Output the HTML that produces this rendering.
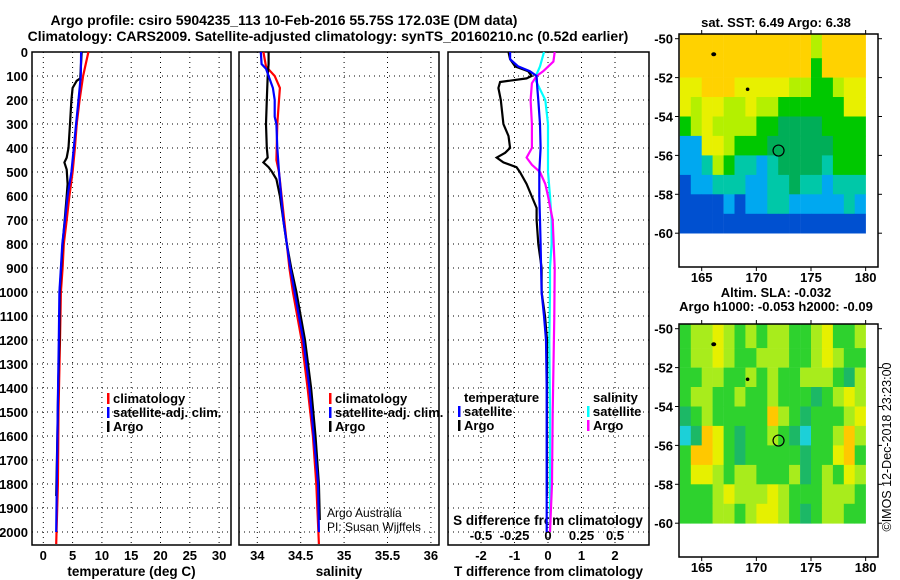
<!DOCTYPE html>
<html><head><meta charset="utf-8"><style>
html,body{margin:0;padding:0;background:#fff;}
svg{display:block;font-family:"Liberation Sans",Arial,sans-serif;font-weight:bold;}
</style></head><body>
<svg id="fig" width="900" height="580" viewBox="0 0 900 580" xmlns="http://www.w3.org/2000/svg">
<text x="284" y="25" text-anchor="middle" font-size="14">Argo profile: csiro 5904235_113 10-Feb-2016 55.75S 172.03E (DM data)</text>
<text x="328" y="41" text-anchor="middle" font-size="14">Climatology: CARS2009. Satellite-adjusted climatology: synTS_20160210.nc (0.52d earlier)</text>
<g id="layer"></g>
</svg>
<script>
// ---------- data ----------
const depthTicks = [0,100,200,300,400,500,600,700,800,900,1000,1100,1200,1300,1400,1500,1600,1700,1800,1900,2000];
const tempTicks = [0,5,10,15,20,25,30];
const salTicks = [34,34.5,35,35.5,36];
const salTickLabels = ["34","34.5","35","35.5","36"];
const tdiffTicks = [-2,-1,0,1,2];
const sdiffTicks = [-0.5,-0.25,0,0.25,0.5];
const sdiffTickLabels = ["-0.5","-0.25","0","0.25","0.5"];

const climTDepth = [0,100,200,300,400,500,600,700,800,900,1000,1200,1500,1800,2050];
const climTVal   = [7.7,6.8,6.2,5.7,5.4,5.0,4.45,4.0,3.5,3.3,3.0,2.85,2.6,2.5,2.2];
const satTDepth  = [0,100,200,300,400,500,600,700,800,900,1000,1200,1500,1800,2000];
const satTVal    = [6.45,6.4,6.0,5.6,5.2,4.8,4.15,3.7,3.25,3.0,2.75,2.65,2.45,2.3,2.2];
const argoTDepth = [0,110,120,150,200,300,400,440,460,490,550,600,700,800,900,1000,1200,1400,1600,1850];
const argoTVal   = [6.55,6.3,5.7,5.0,4.8,4.55,4.3,4.0,3.6,4.0,4.15,4.0,3.65,3.3,3.05,2.8,2.75,2.55,2.4,2.2];

const climSDepth = [0,60,80,100,150,200,300,450,500,600,700,800,900,1000,1200,1400,1600,1800,2050];
const climSVal   = [34.07,34.1,34.15,34.2,34.26,34.25,34.23,34.22,34.25,34.28,34.31,34.34,34.37,34.41,34.51,34.58,34.64,34.68,34.71];
const satSDepth  = [0,50,70,100,150,200,270,300,400,500,700,900,1000,1200,1400,1600,1800,2000];
const satSVal    = [34.04,34.05,34.1,34.13,34.18,34.2,34.2,34.22,34.23,34.25,34.3,34.38,34.43,34.53,34.6,34.65,34.7,34.71];
const argoSDepth = [0,50,100,200,300,400,440,460,480,500,530,600,700,800,900,1000,1200,1400,1600,1800,1950];
const argoSVal   = [34.13,34.13,34.12,34.11,34.1,34.11,34.12,34.07,34.13,34.17,34.22,34.26,34.3,34.34,34.39,34.45,34.55,34.62,34.67,34.71,34.72];

const dTArgoDepth = [0,30,60,80,100,110,125,150,200,300,350,400,420,440,460,480,500,550,600,650,700,800,900,1000,1100,1200,1300,1850];
const dTArgoVal   = [-1.18,-1.13,-0.98,-0.59,-0.49,-0.64,-1.43,-1.48,-1.41,-1.33,-1.18,-1.13,-1.28,-1.53,-1.33,-0.94,-0.84,-0.64,-0.49,-0.34,-0.34,-0.29,-0.19,-0.19,-0.09,-0.03,-0.03,-0.03];
const dTSatDepth  = [0,30,60,80,100,150,200,300,400,500,600,700,800,1000,1100,1200,1400,1600,2000];
const dTSatVal    = [-1.13,-1.13,-0.89,-0.54,-0.34,-0.32,-0.29,-0.24,-0.22,-0.26,-0.26,-0.24,-0.22,-0.19,-0.12,-0.06,-0.04,-0.04,-0.04];
const dSSatDepth  = [0,60,100,120,200,300,400,500,600,700,800,900,1000,1200,1500,2000];
const dSSatVal    = [-0.03,-0.06,-0.09,-0.09,-0.02,0,0,0,0.015,0.027,0.027,0.015,0.015,0.01,0.015,0.015];
const dSArgoDepth = [0,40,80,100,130,200,300,400,440,470,500,550,600,700,900,1100,1500,1800,2000];
const dSArgoVal   = [0.05,0.04,-0.035,-0.085,-0.12,-0.13,-0.12,-0.12,-0.16,-0.12,-0.06,-0.02,0,0.035,0.05,0.047,0.035,0.03,0.015];

const lonTicks = [165,170,175,180];
const latTicks = [-50,-52,-54,-56,-58,-60];
const sstRows = ["OOOOOOOOOOOOLOOOO","OOOOOOOOOOOOGOOOO","YYOOOYYYYYLLGGLYY","YLYYLLYLLGGGGGGYY","GLYLLLLGGDDDDGGGG","CCYYLGGGDDDDDDGGG","CCTLGTTCTDDDDTGGG","BCCTTTCCTTDTTCTTT","BBBBCBCCTTCCCCCTC","BBBBBBBBBBBBBBBBB"];
const slaRows = ["GLLYLGLGLLGGLYGGL","GLLYLGGLLLGGLYLGG","GGLLGGLGLGGLLLGDL","GLLGGLGGLGGGDGLYL","DGLGGGGGOLGDGGGLY","CDOYGDGGLGDCGGLOL","GOOYGDGGGGGDGGYOG","GYYLGLLGGGLDGLGYL","GGGLYLLLYLGGGLLLG","GGGLLGLYYLGDGLLGG"];
const profileLon = [172.03];
const profileLat = [-55.75];

// ---------- helpers ----------
const NS="http://www.w3.org/2000/svg";
const layer=document.getElementById('layer');
function mk(tag,attrs,parent){const e=document.createElementNS(NS,tag);for(const k in attrs)e.setAttribute(k,attrs[k]);(parent||layer).appendChild(e);return e;}
const top0=52, bot=545;
function yD(d){return top0+d*0.24;}
const xT=v=>43.3+5.86*v;
const xS=v=>257.3+86.8*(v-34);
const xTd=v=>548+33.5*v;
const xSd=v=>548+134*v;

function panel(name,x0,x1,xticks,xf,labels,xlabel){
  const g=mk('g',{});
  
  
  xticks.forEach((t,i)=>{
    const gl=mk('line',{x1:xf(t),x2:xf(t),y1:top0,y2:bot,stroke:'#000','stroke-width':1,'stroke-dasharray':'1,4'},g);
    
    
    if(labels){const tx=mk('text',{x:xf(t),y:560,'text-anchor':'middle','font-size':13},g);tx.textContent=labels[i];
      
      }
  });
  depthTicks.forEach(d=>{
    const gl=mk('line',{x1:x0,x2:x1,y1:yD(d),y2:yD(d),stroke:'#000','stroke-width':1,'stroke-dasharray':'1,4'},g);
    
    
  });
  const r=mk('rect',{x:x0,y:top0,width:x1-x0,height:bot-top0,fill:'none',stroke:'#000','stroke-width':1.5},g);
  
  
  const xl=mk('text',{x:(x0+x1)/2,y:576,'text-anchor':'middle','font-size':13.5},g);
  xl.textContent=xlabel;
  
  
  return g;
}
function line(name,depths,vals,xf,color){
  const pts=depths.map((d,i)=>xf(vals[i]).toFixed(1)+','+yD(d).toFixed(1)).join(' ');
  const p=mk('polyline',{points:pts,fill:'none',stroke:color,'stroke-width':2.2});
  
  
}
function legend(name,x,y,items){
  const g=mk('g',{});
  
  
  items.forEach((it,i)=>{
    if(it[1]){mk('rect',{x:x,y:y+i*14-10,width:2.5,height:11,fill:it[1]},g);}
    const t=mk('text',{x:x+6,y:y+i*14,'font-size':13},g);t.textContent=it[0];
    
    
  });
}
function txt(name,x,y,s,size,anchor,weight){
  const t=mk('text',{x:x,y:y,'font-size':size,'text-anchor':anchor||'start'});
  if(weight)t.setAttribute('font-weight',weight);
  t.textContent=s;
  
  
  return t;
}

// ---------- panels ----------
panel('temperature-panel',32,231,tempTicks,xT,tempTicks.map(String),'temperature (deg C)');
panel('salinity-panel',239,439,salTicks,xS,salTickLabels,'salinity');
panel('difference-panel',448,649,tdiffTicks,xTd,tdiffTicks.map(String),'T difference from climatology');
depthTicks.forEach(d=>{txt('y-tick-label',28,yD(d)+5,String(d),13,'end');});
sdiffTicks.forEach((v,i)=>{txt('s-diff-tick-label',xSd(v),540,sdiffTickLabels[i],13,'middle');});
txt('s-diff-axis-title',548,525,'S difference from climatology',13.5,'middle');

line('temp-climatology-line',climTDepth,climTVal,xT,'#ff0000');
line('temp-argo-line',argoTDepth,argoTVal,xT,'#000000');
line('temp-satellite-line',satTDepth,satTVal,xT,'#0000ff');
line('sal-climatology-line',climSDepth,climSVal,xS,'#ff0000');
line('sal-argo-line',argoSDepth,argoSVal,xS,'#000000');
line('sal-satellite-line',satSDepth,satSVal,xS,'#0000ff');
line('sdiff-satellite-line',dSSatDepth,dSSatVal,xSd,'#00ffff');
line('sdiff-argo-line',dSArgoDepth,dSArgoVal,xSd,'#ff00ff');
line('tdiff-argo-line',dTArgoDepth,dTArgoVal,xTd,'#000000');
line('tdiff-satellite-line',dTSatDepth,dTSatVal,xTd,'#0000ff');

legend('temp-legend',107,403,[['climatology','#ff0000'],['satellite-adj. clim.','#0000ff'],['Argo','#000000']]);
legend('sal-legend',329,403,[['climatology','#ff0000'],['satellite-adj. clim.','#0000ff'],['Argo','#000000']]);
legend('tdiff-legend',458,402,[['temperature',null],['satellite','#0000ff'],['Argo','#000000']]);
legend('sdiff-legend',587,402,[['salinity',null],['satellite','#00ffff'],['Argo','#ff00ff']]);
txt('credit-line-1',327,517,'Argo Australia',12,'start','normal');
txt('credit-line-2',327,531,'PI: Susan Wijffels',12,'start','normal');

// ---------- maps ----------
const colsSST={O:'#ffd200',Y:'#e8f000',L:'#b4f000',G:'#00c800',D:'#00ae58',T:'#00c8a8',C:'#00a8f0',B:'#0050d0'};
const colsSLA={G:'#2ed22e',L:'#a8ec1c',Y:'#e6f000',D:'#1cb866',O:'#ffc800',C:'#1cd0d8'};
const mx0=679,mx1=878;
const lonX=lon=>701.7+(lon-165)*10.93;
function map(name,yOff,rows,cols,t1,t2){
  const g=mk('g',{});
  
  
  const latY=lat=>yOff+38.7+(-50-lat)*19.45;
  rows.forEach((row,r)=>{
    for(let c=0;c<row.length;c++){
      const x0=lonX(163+c), x1=lonX(164+c);
      const y0=r===0?yOff+34:latY(-50-r), y1=latY(-51-r);
      mk('rect',{x:x0.toFixed(1),y:y0.toFixed(1),width:(x1-x0+0.3).toFixed(1),height:(y1-y0+0.3).toFixed(1),fill:cols[row[c]]},g);
    }
  });
  mk('rect',{x:mx0,y:yOff+34,width:mx1-mx0,height:233,fill:'none',stroke:'#000','stroke-width':1.5},g);
  lonTicks.forEach(l=>{
    mk('line',{x1:lonX(l),x2:lonX(l),y1:yOff+34,y2:yOff+30,stroke:'#000'},g);
    mk('line',{x1:lonX(l),x2:lonX(l),y1:yOff+267,y2:yOff+271,stroke:'#000'},g);
    const t=mk('text',{x:lonX(l),y:yOff+282,'text-anchor':'middle','font-size':13},g);t.textContent=String(l);
    
    
  });
  latTicks.forEach(l=>{
    mk('line',{x1:mx0,x2:mx0-4,y1:latY(l),y2:latY(l),stroke:'#000'},g);
    mk('line',{x1:mx1,x2:mx1+4,y1:latY(l),y2:latY(l),stroke:'#000'},g);
    const t=mk('text',{x:673,y:latY(l)+5,'text-anchor':'end','font-size':13},g);t.textContent=String(l);
    
    
  });
  const c=mk('circle',{cx:lonX(profileLon[0]),cy:latY(profileLat[0]),r:5.5,fill:'none',stroke:'#000','stroke-width':1.2},g);
  
  
  mk('ellipse',{cx:lonX(166.1),cy:latY(-50.8),rx:2.5,ry:2,fill:'#000'},g);
  mk('circle',{cx:lonX(169.2),cy:latY(-52.6),r:1.8,fill:'#000'},g);
  if(t1){txt('map-title',776,yOff+(t2?7:27),t1,13,'middle');}
  if(t2){txt('map-subtitle',776,yOff+21,t2,13,'middle');}
}
map('sst-map',0,sstRows,colsSST,'sat. SST: 6.49 Argo: 6.38',null);
map('sla-map',290,slaRows,colsSLA,'Altim. SLA: -0.032','Argo h1000: -0.053 h2000: -0.09');
const cr=txt('copyright-label',0,0,'©IMOS 12-Dec-2018 23:23:00',12.5,'middle','normal');
cr.setAttribute('transform','translate(891,447) rotate(-90)');
</script>
</body></html>
